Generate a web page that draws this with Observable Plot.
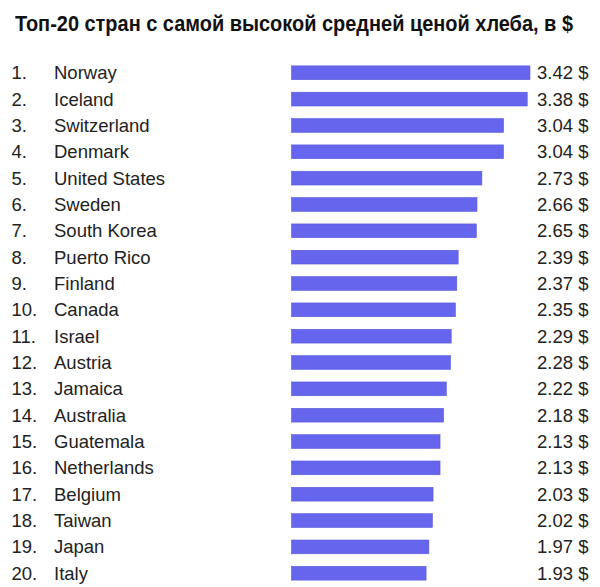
<!DOCTYPE html>
<html><head><meta charset="utf-8">
<script src="https://cdn.jsdelivr.net/npm/d3@7"></script>
<script src="https://cdn.jsdelivr.net/npm/@observablehq/plot@0.6"></script>
<style>
body{margin:0;background:#fff;width:600px;height:587px;overflow:hidden;}
#title{height:45px;box-sizing:border-box;padding:12px 0 0 15px;font-family:"Liberation Sans",Arial,sans-serif;font-weight:bold;font-size:22px;line-height:24px;color:#111;white-space:nowrap;}
#title span{display:inline-block;transform-origin:0 50%;}
</style></head>
<body>
<div id="title"><span id="tt">Топ-20 стран с самой высокой средней ценой хлеба, в $</span></div>
<div id="chart"></div>
<script>
const ranks = ["1.","2.","3.","4.","5.","6.","7.","8.","9.","10.","11.","12.","13.","14.","15.","16.","17.","18.","19.","20."];
const countries = ["Norway","Iceland","Switzerland","Denmark","United States","Sweden","South Korea","Puerto Rico","Finland","Canada","Israel","Austria","Jamaica","Australia","Guatemala","Netherlands","Belgium","Taiwan","Japan","Italy"];
const prices = [3.42,3.38,3.04,3.04,2.73,2.66,2.65,2.39,2.37,2.35,2.29,2.28,2.22,2.18,2.13,2.13,2.03,2.02,1.97,1.93];
const valueLabels = prices.map(v => v.toFixed(2) + " $");

const data = countries.map((c, i) => ({rank: ranks[i], country: c, price: prices[i], label: valueLabels[i]}));

// fit the title to the reference's width
const tt = document.getElementById("tt");
const w = tt.getBoundingClientRect().width;
tt.style.transform = `scaleX(${558 / w})`;

const font = "'Liberation Sans', Arial, sans-serif";
const chart = Plot.plot({
  width: 600,
  height: 542,
  marginLeft: 0,
  marginRight: 0,
  marginTop: 0,
  marginBottom: 0,
  style: {fontFamily: font, fontSize: "18.5px", color: "#222", background: "#fff"},
  x: {domain: [0, 3.42], range: [291.5, 530], axis: null},
  y: {domain: countries, range: [14.6, 541.4], paddingInner: 0.5, paddingOuter: 0.25, round: false, axis: null},
  marks: [
    Plot.barX(data, {x: "price", y: "country", fill: "#6565ee", stroke: "#5a5ad8", strokeWidth: 0.6, insetTop: -0.3, insetBottom: -0.3}),
    Plot.text(data, {y: "country", text: "rank", frameAnchor: "left", textAnchor: "start", dx: 11, fill: "#222"}),
    Plot.text(data, {y: "country", text: "country", frameAnchor: "left", textAnchor: "start", dx: 53.5, fill: "#222"}),
    Plot.text(data, {y: "country", text: "label", frameAnchor: "right", textAnchor: "end", dx: -12, fill: "#222"})
  ]
});
document.getElementById("chart").appendChild(chart);
</script>
</body></html>
